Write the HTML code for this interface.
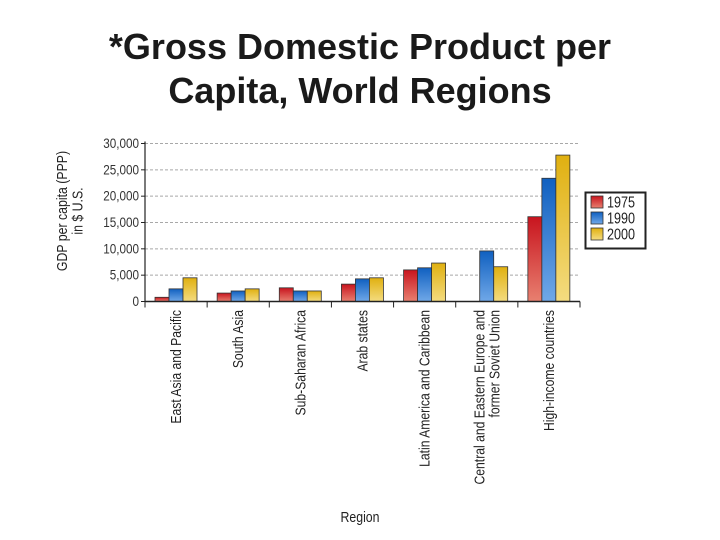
<!DOCTYPE html>
<html><head><meta charset="utf-8">
<style>
html,body{margin:0;padding:0;background:#fff;}
body{width:720px;height:540px;overflow:hidden;position:relative;font-family:"Liberation Sans",Arial,sans-serif;}
#title{position:absolute;left:0;top:25px;width:720px;text-align:center;font-size:36px;font-weight:bold;line-height:44px;color:#1a1a1a;}
svg{position:absolute;left:0;top:0;}
</style></head>
<body>
<div id="title">*Gross Domestic Product per<br>Capita, World Regions</div>
<svg id="chart" width="720" height="540">
<defs>
<linearGradient id="gR" x1="0" y1="0" x2="0" y2="1"><stop offset="0" stop-color="#c8141e"/><stop offset="1" stop-color="#e88070"/></linearGradient>
<linearGradient id="gB" x1="0" y1="0" x2="0" y2="1"><stop offset="0" stop-color="#1060c0"/><stop offset="1" stop-color="#70a8e8"/></linearGradient>
<linearGradient id="gY" x1="0" y1="0" x2="0" y2="1"><stop offset="0" stop-color="#e0b010"/><stop offset="1" stop-color="#f4dc80"/></linearGradient>
</defs>
</svg>
<script>
const categories = ["East Asia and Pacific","South Asia","Sub-Saharan Africa","Arab states","Latin America and Caribbean","Central and Eastern Europe and|former Soviet Union","High-income countries"];
const series1975 = [800,1600,2600,3300,6000,0,16100];
const series1990 = [2400,2000,2000,4300,6400,9600,23400];
const series2000 = [4500,2400,2000,4500,7300,6600,27800];
const seriesNames = ["1975","1990","2000"];
const yTicks = [0,5000,10000,15000,20000,25000,30000];
const yTickLabels = ["0","5,000","10,000","15,000","20,000","25,000","30,000"];

const NS="http://www.w3.org/2000/svg";
const svg=document.getElementById('chart');
const X0=145, X1=580, Y0=301.5, Y1=143.5, YMAX=30000;
const gw=(X1-X0)/categories.length;
function y(v){return Y0-(v/YMAX)*(Y0-Y1);}
function gx(i){return X0+i*gw;}
function mk(tag,attrs,parent){const e=document.createElementNS(NS,tag);for(const k in attrs)e.setAttribute(k,attrs[k]);(parent||svg).appendChild(e);return e;}

yTicks.forEach((t,i)=>{
  if(t>0){
    const g=mk('line',{x1:X0,x2:X1,y1:y(t),y2:y(t),stroke:'#a8a8a8','stroke-width':1,'stroke-dasharray':'3,2'});
    
    
  }
  const tk=mk('line',{x1:X0-4,x2:X0,y1:y(t),y2:y(t),stroke:'#222'});
  
  
  const lb=mk('text',{transform:'translate('+(X0-6)+','+(y(t)+4.5)+') scale(0.9,1.05)','text-anchor':'end','font-size':13,fill:'#333'});
  lb.textContent=yTickLabels[i];
  
  
});

const allSeries=[series1975,series1990,series2000];
const fills=['url(#gR)','url(#gB)','url(#gY)'];
const bw=14;
categories.forEach((c,i)=>{
  allSeries.forEach((s,j)=>{
    const v=s[i];
    if(v<=0)return;
    const r=mk('rect',{x:gx(i)+10+j*bw,y:y(v),width:bw,height:Y0-y(v),fill:fills[j],stroke:'#333','stroke-width':0.8});
    
    
  });
  const tk=mk('line',{x1:gx(i),x2:gx(i),y1:Y0,y2:Y0+6,stroke:'#222'});
  
  
  const parts=c.split('|');
  const cx=gx(i)+gw/2;
  parts.forEach((p,k)=>{
    const off=(k-(parts.length-1)/2)*15;
    const t=mk('text',{transform:'translate('+(cx+off+5)+',310) rotate(-90) scale(0.87,1.05)','text-anchor':'end','font-size':14,fill:'#222'});
    t.textContent=p;
    
    
  });
});
const lt=mk('line',{x1:X1,x2:X1,y1:Y0,y2:Y0+6,stroke:'#222'});



const ya=mk('line',{x1:X0,x2:X0,y1:Y1-2,y2:Y0,stroke:'#222','stroke-width':1.2});


const xa=mk('line',{x1:X0,x2:X1,y1:Y0,y2:Y0,stroke:'#222','stroke-width':1.5});



const yt=mk('text',{transform:'translate(67,211) rotate(-90) scale(0.88,1.05)','text-anchor':'middle','font-size':14,fill:'#222'});


const ts1=mk('tspan',{x:0,dy:0},yt);ts1.textContent='GDP per capita (PPP)';
const ts2=mk('tspan',{x:0,dy:15},yt);ts2.textContent='in $ U.S.';

const xt=mk('text',{transform:'translate(360,522) scale(0.88,1.05)','text-anchor':'middle','font-size':14,fill:'#222'});
xt.textContent='Region';



const lg=mk('g',{});


mk('rect',{x:585.5,y:192.5,width:60,height:56,fill:'#fff',stroke:'#222','stroke-width':2},lg);
seriesNames.forEach((n,j)=>{
  const e=mk('g',{},lg);
  
  
  mk('rect',{x:591,y:196+j*16,width:12,height:12,fill:fills[j],stroke:'#333','stroke-width':0.8},e);
  const t=mk('text',{transform:'translate(607,207.5'.replace('207.5',String(207.5+j*16))+') scale(0.9,1.1)','font-size':14,fill:'#222'},e);
  t.textContent=n;
});
</script>
</body></html>
